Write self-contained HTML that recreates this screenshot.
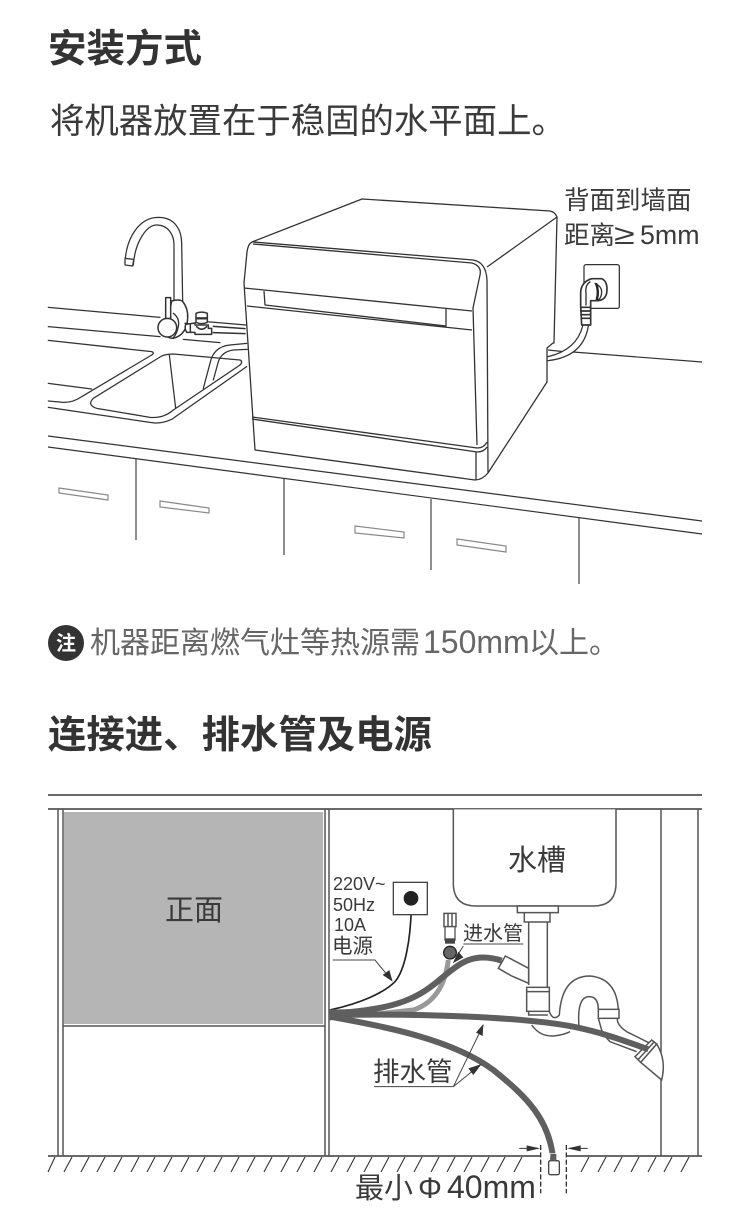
<!DOCTYPE html>
<html><head><meta charset="utf-8"><style>
html,body{margin:0;padding:0;background:#fff;width:750px;height:1222px;overflow:hidden}
svg{display:block}
text{font-family:"Liberation Sans","Noto Sans CJK SC",sans-serif;fill:#3a3a3a}
.l{fill:none;stroke:#333;stroke-width:3.8;stroke-linejoin:round;stroke-linecap:round}
.m{fill:none;stroke:#555;stroke-width:4.5}
</style></head><body>
<svg width="750" height="1222" viewBox="0 0 750 1222" xmlns="http://www.w3.org/2000/svg">
<text x="48" y="62" font-size="38.5" font-weight="700" style="fill:#333">安装方式</text>
<text x="50" y="133" font-size="34.4">将机器放置在于稳固的水平面上。</text>
<text x="564" y="209" font-size="25.5">背面到墙面</text>
<text x="564" y="244" font-size="25.5">距离</text>
<text transform="translate(614,244) scale(1.35,1)" font-size="28">≥</text>
<text x="640" y="244" font-size="26.8">5mm</text>

<!-- kitchen counter -->
<g fill="none" stroke="#333" stroke-width="1.2">
<path d="M48 436L702 521M48 447L702 534"/>
<path d="M548 350L567 352M573 352L702 362"/>
<path d="M136 459V540M284 479V555M431 499V570M579 517V584" stroke="#444"/>
<path d="M59 488L108 495V500L59 493ZM160 501L209 508V513L160 507ZM355 526L404 532V538L355 533ZM457 539L506 546V552L457 545Z" stroke="#888"/>
</g>
<g transform="translate(40,180) scale(.33333)">
<path class="l" d="M25 382L360 412M490 424L618 435M25 440L360 470M430 478L540 488"/>
<path class="l" d="M25 481L335 515Q345 518 335 525L125 650Q100 668 70 667L25 663M25 610L155 627"/>
<path class="l" d="M25 682L335 728Q365 732 395 718L620 560"/>
<path class="l" d="M365 528Q380 522 400 522L600 540Q610 545 600 555L400 690Q370 716 330 712L170 685Q140 675 160 655ZM388 525L407 685"/>
<path class="l" d="M490 625L510 550Q520 500 570 495L620 490M520 600L535 545Q545 515 580 510L622 508"/>
<!-- faucet spout -->
<path class="l" style="fill:#fff" d="M402 362L402 195C402 165 385 135 350 135C320 135 285 185 280 255L255 250C258 170 300 112 355 112C405 112 425 150 425 190L428 365"/>
<path class="l" style="fill:#fff" d="M255 235L255 255L278 258L281 238Z"/>
</g>
<g transform="translate(145,285) scale(.33333)" stroke-linejoin="round">
<path class="l" style="fill:#fff;stroke-width:4.5" d="M80 48Q100 42 112 48Q130 70 128 100Q125 150 85 160Q70 160 60 150Z"/>
<path class="l" style="stroke-width:4" d="M85 85Q105 100 100 125Q95 148 85 158M120 115H128"/>
<circle class="l" style="fill:#fff;stroke-width:4.5" cx="67" cy="128" r="28"/>
<rect class="l" style="fill:#fff;stroke-width:4.5" x="62" y="38" width="15" height="62"/>
<path class="l" style="fill:#fff;stroke-width:4.5" d="M122 118L150 114V120H190V130H200V148H150V142H125Q118 130 122 118Z"/>
<path class="l" style="fill:#fff;stroke-width:4.5" d="M153 85Q170 78 187 85V112Q170 120 153 112Z"/>
<path d="M153 100H187" stroke="#333" stroke-width="7"/>
<path class="l" style="stroke-width:4.5" d="M136 118V142M155 125Q170 140 185 125M205 124L300 131M205 143L300 146"/>
</g>

<!-- dishwasher -->
<g fill="#fff" stroke="#333" stroke-width="1.3" stroke-linejoin="round">
<path d="M252 242L362 199L550 211Q555 212 557 217L554 343H553L547 348V382L488 473Q482 480 475 480L255 450L244 283L247 252Q248 244 252 242Z"/>
<path fill="none" d="M253 242L473 260Q486 262 487 280L488 473M253 244L472 263Q482 266 480 275L473 308L477 445M557 217L487 267M244 288L472 311M247 306L472 330M264 291L265 305L446 326V308M252 417L477 448Q484 448 487 442M252 419L477 452Q484 452 487 447M476 452V480"/>
</g>
<!-- plug -->
<g transform="translate(560,250) scale(.33333)">
<path class="l" style="fill:#fff;stroke-width:0" d="M68 228Q50 300 -36 320L-36 330Q70 315 85 228Z"/>
<path class="l" d="M68 228Q50 300 -36 320M85 228Q70 320 -36 332"/>
<rect class="l" x="72" y="44" width="106" height="131" rx="6"/>
<path class="l" style="fill:#fff;stroke-width:5" d="M62 167V125Q65 95 95 86H125Q145 95 140 130Q135 150 115 152H92V225H65Z"/>
<path class="l" style="stroke-width:4" d="M90 96Q75 105 78 130V165M105 100Q125 110 125 125Q125 145 112 152"/>
<path d="M108 100Q118 125 110 150" stroke="#222" stroke-width="7" fill="none"/>
<path class="l" style="stroke-width:5" d="M62 172H92M62 183H92M63 194H92M64 205H92"/>
</g>

<circle cx="66" cy="643" r="18" fill="#333"/>
<text x="66" y="650" font-size="20" font-weight="700" text-anchor="middle" style="fill:#fff">注</text>
<text x="90" y="653" font-size="30" style="fill:#666">机器距离燃气灶等热源需<tspan x="423" font-size="32">150mm</tspan><tspan x="529">以上。</tspan></text>
<text x="48" y="748" font-size="38.4" font-weight="700" style="fill:#333">连接进、排水管及电源</text>

<!-- cabinet -->
<rect x="64" y="812" width="259" height="212" fill="#b5b5b5"/>
<g fill="none" stroke="#555" stroke-width="1.5">
<path d="M48 795H702M48 809H702M48 1156H702" stroke-width="1.8"/>
<path d="M58 809V1156M63 809V1156M325 809V1156M329 809V1156M63 1026H325M661 809V1156M698 809V1156"/>
</g>
<path stroke="#333" stroke-width="1.1" fill="none" d="M55 1157l-7 15M72 1157l-8 15M89 1157l-8 15M105 1157l-8 15M122 1157l-8 15M139 1157l-8 15M155 1157l-8 15M172 1157l-8 15M189 1157l-8 15M205 1157l-8 15M222 1157l-8 15M239 1157l-8 15M255 1157l-8 15M272 1157l-8 15M289 1157l-8 15M305 1157l-8 15M322 1157l-8 15M339 1157l-8 15M355 1157l-8 15M372 1157l-8 15M389 1157l-8 15M405 1157l-8 15M422 1157l-8 15M439 1157l-8 15M455 1157l-8 15M472 1157l-8 15M489 1157l-8 15M505 1157l-8 15M522 1157l-8 15M589 1157l-8 15M606 1157l-8 15M622 1157l-8 15M639 1157l-8 15M656 1157l-8 15M672 1157l-8 15M689 1157l-8 15"/>

<!-- sink + trap -->
<g transform="translate(320,800) scale(.33333)">
<path class="m" style="fill:#fff" d="M400 28V250Q400 318 468 318H820Q888 318 888 250V28"/>
</g>
<g transform="translate(430,900) scale(.33333)">
<path class="m" style="fill:#fff" d="M262 18H385V38H262ZM283 38H360V66H283Z"/>
<path class="m" d="M296 66V205M352 66V262"/>
<path class="m" style="fill:#fff" d="M226 168L296 205L296 250L245 228L205 205Z"/>
<path class="m" d="M296 205V255"/>
<rect class="m" style="fill:#fff" x="290" y="262" width="68" height="72"/>
<path class="m" d="M290 275H358M296 334V345H354M358 335Q370 365 388 345Q395 228 480 228Q560 235 565 330M447 380Q440 290 478 290Q505 290 505 330"/>
<rect class="m" style="fill:#fff" x="505" y="328" width="62" height="27"/>
<path class="m" d="M505 355L515 390Q520 405 540 425L620 455M562 355Q560 375 590 395L660 430M305 375Q330 410 370 408Q400 405 420 395"/>
<path class="m" style="fill:#fff" d="M680 432Q710 480 695 540L632 487Z"/>
<path class="m" style="fill:#fff" d="M615 470L665 420L680 432L632 487Z"/>
<path class="m" d="M625 478L672 426"/>
</g>

<g transform="translate(320,800) scale(.33333)">
<!-- inlet -->
<path d="M385 480C375 560 340 610 280 630L140 645" fill="none" stroke="#999" stroke-width="15"/>
<path class="m" d="M372 340H408V380H372ZM384 340V380M396 340V380"/>
<rect x="375" y="380" width="30" height="40" fill="#fff" stroke="#555" stroke-width="4"/>
<rect x="375" y="415" width="30" height="16" fill="#444"/>
<circle cx="390" cy="458" r="19" fill="#666" stroke="#222" stroke-width="4"/>
<!-- hoses -->
<path d="M30 640C240 630 300 590 370 530C420 490 460 455 545 482" fill="none" stroke="#5f5f5f" stroke-width="18"/>
<path d="M30 645C300 640 600 650 760 680C850 698 920 725 985 748" fill="none" stroke="#5f5f5f" stroke-width="18"/>
<path d="M30 650C200 680 400 720 520 810C620 890 690 960 700 1082" fill="none" stroke="#5f5f5f" stroke-width="18"/>
<path d="M30 630C120 610 190 580 225 545C255 510 272 420 274 320" fill="none" stroke="#222" stroke-width="5"/>
<path d="M28 628L110 628L30 662Z" fill="#5f5f5f"/>
<!-- outlet -->
<rect x="220" y="247" width="102" height="97" fill="#fff" stroke="#444" stroke-width="4"/>
<circle cx="273" cy="295" r="22" fill="#222"/>
<!-- leaders -->
<path d="M38 480H165L210 535M430 432H610M410 470L430 438M162 860H400L480 795M400 860L490 675" fill="none" stroke="#444" stroke-width="3"/>
<path d="M218 545L188 525L208 510ZM398 490L415 455L430 472ZM490 672L468 698L488 708ZM485 792L445 805L460 825Z" fill="#333"/>
<!-- drain -->
<rect x="662" y="1060" width="77" height="12" fill="#fff"/>
<path d="M662 1068H686M718 1068H739" stroke="#fff" stroke-width="4"/>
<rect x="686" y="1082" width="32" height="42" rx="5" fill="#fff" stroke="#444" stroke-width="4"/>
<path d="M700 1062V1082" stroke="#5f5f5f" stroke-width="18"/>
<path d="M662 1035V1180M739 1035V1180" stroke="#333" stroke-width="4" stroke-dasharray="15 7" fill="none"/>
<path d="M598 1045H655M748 1045H803" stroke="#333" stroke-width="3"/>
<path d="M660 1045L620 1036V1054ZM742 1045L782 1036V1054Z" fill="#333"/>
</g>

<text x="165" y="920" font-size="29">正面</text>
<text x="508" y="870" font-size="29">水槽</text>
<text x="333" y="890" font-size="18">220V~</text>
<text x="333" y="911" font-size="18">50Hz</text>
<text x="334" y="931" font-size="18">10A</text>
<text x="332" y="953" font-size="20.5">电源</text>
<text x="463" y="940" font-size="20">进水管</text>
<text x="373" y="1081" font-size="26.5">排水管</text>
<text x="355" y="1198" font-size="29">最小<tspan x="418" font-size="30">Φ</tspan><tspan x="447" font-size="32">40mm</tspan></text>
</svg>
</body></html>
